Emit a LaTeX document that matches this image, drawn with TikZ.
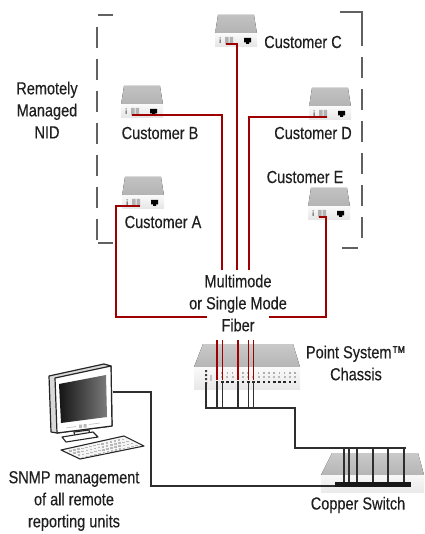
\documentclass[tikz,border=0pt]{standalone}
\usepackage{fontspec}
\setmainfont{Liberation Sans}[FakeStretch=0.83,FakeBold=0.35]
\begin{document}
\begin{tikzpicture}[x=1pt,y=-1pt,
  lbl/.style={font=\fontsize{17.5}{22}\selectfont, inner sep=0pt, align=center, text=black!88},
  fiber/.style={draw=red!62!black, line width=1.4pt},
  copper/.style={draw=black!82, line width=1.4pt},
  bracket/.style={draw=black!62, line width=1.6pt},
  bracketdash/.style={bracket, dash pattern=on 21pt off 11pt},
  nid/.pic={
    \fill[top color=gray!48, bottom color=gray!60] (3,0) -- (39,0) -- (42,19) -- (0,19) -- cycle;
    \fill[top color=gray!5, bottom color=gray!20] (0,19) rectangle (42,32);
    \fill[black!70] (4.5,22.5) rectangle (5.5,23.5) (4.5,24.5) rectangle (5.5,28);
    \fill[gray!60] (10,22) rectangle (13.5,29.5) (14.5,22) rectangle (18,29.5);
    \fill[black] (29,23) rectangle (36,27.5) (31,27.5) rectangle (34,29);
    \coordinate (-pa) at (11,29);
    \coordinate (-pb) at (18,29);
  },
  chassis/.pic={
    \fill[top color=gray!42, bottom color=gray!58] (9,0) -- (99,0) -- (106,23) -- (0,23) -- cycle;
    \fill[top color=gray!4, bottom color=gray!18] (0,23) rectangle (106,45);
    \fill[black!75] (11,26) rectangle (13,28) (11,30) rectangle (13,32)
                    (11,34) rectangle (13,36) (11,38) rectangle (13,40);
    \fill[gray!45] (16,31) rectangle (17.5,37);
    \foreach \i in {0,...,15} {
      \fill[gray!65] (23+5.2*\i-0.8,28) rectangle ++(1.6,1.6);
      \fill[gray!55] (23+5.2*\i-1,32) rectangle ++(2,1.6);
      \fill[black!85] (23+5.2*\i-1.3,37) rectangle ++(2.6,2.4);
    }
    \foreach \i in {0,1,4,6,7} {
      \coordinate (-r\i) at (23+5.2*\i,36);
      \coordinate (-b\i) at (23+5.2*\i,39);
    }
    \coordinate (-bL) at (12,39);
  },
  switch/.pic={
    \fill[top color=gray!42, bottom color=gray!58] (12,0) -- (98,0) -- (104,22) -- (1,22) -- cycle;
    \fill[top color=gray!6, bottom color=gray!16] (1,22) rectangle (104,39);
    \fill[black!90] (15,29) rectangle (91,34);
    \foreach \n/\x in {1/24,2/29,3/37,4/53,5/68,6/84} \coordinate (-d\n) at (\x,29);
    \coordinate (-in) at (15,33);
  },
  computer/.pic={
    % cabinet side and bezel
    \filldraw[fill=gray!30, draw=black!85, line width=1.2pt, line join=round]
      (49,376) -- (104,364) -- (111,366) -- (112,426) -- (57,433) -- (51,432) -- cycle;
    \filldraw[fill=white, draw=black!85, line width=1.2pt, line join=round]
      (55,378) -- (111,366) -- (112,426) -- (57,433) -- cycle;
    \shade[left color=black!92, right color=black!52]
      (59,384) -- (106,375) -- (107,417) -- (61,423) -- cycle;
    \fill[gray!55] (79,424.5) rectangle (82,428) (83.5,424) rectangle (86.5,427.5);
    \draw[gray!50, line width=0.6pt] (66,428) -- (76,426.5) (89,424.5) -- (100,423);
    % stand
    \filldraw[fill=gray!12, draw=black!85, line width=1.1pt, line join=round]
      (74,432) -- (89,430) -- (90,435) -- (75,437) -- cycle;
    \filldraw[fill=white, draw=black!85, line width=1.1pt, line join=round]
      (62,437) -- (93,432) -- (98,437) -- (66,442) -- cycle;
    % keyboard
    \filldraw[fill=gray!8, draw=black!85, line width=1.1pt, line join=round]
      (61,450) -- (124,436) -- (144,446) -- (80,459) -- cycle;
    \foreach \r in {0,...,3} \foreach \c in {0,...,13}
      \fill[gray!55] (68.9+4.07*\c+4.43*\r, 450.2-0.9*\c+2.1*\r) rectangle ++(2.6,1.5);
    \coordinate (-out) at (113,392);
  }
]
\useasboundingbox (0,0) rectangle (424,534);

% bracket around the remote units
\draw[bracket] (98,15) -- (113,15);
\draw[bracketdash] (97,27) -- (97,240);
\draw[bracket] (98,243) -- (113,243);
\draw[bracket] (340,12) -- (362,12) -- (362,46);
\draw[bracketdash] (362,57) -- (362,240);
\draw[bracket] (342,248) -- (358,248);

% remote NIDs
\pic (c) at (215,15) {nid};
\pic (b) at (121,86) {nid};
\pic (a) at (122,177) {nid};
\pic (d) at (309,88) {nid};
\pic (e) at (308,188) {nid};

\node[lbl] (labc) at (303,42) {Customer C};
\node[lbl] (labb) at (160,133) {Customer B};
\node[lbl] (laba) at (163,222) {Customer A};
\node[lbl] (labd) at (313,133) {Customer D};
\node[lbl] (labe) at (305,177) {Customer E};
\node[lbl] (nidlab) at (47,110) {Remotely\\Managed\\NID};

% fiber runs
\node[lbl] (fib) at (238,303) {Multimode\\or Single Mode\\Fiber};
\coordinate (aturn) at (116,317);
\coordinate (aend) at (207,317);
\coordinate (eturn) at (326,317);
\coordinate (eend) at (269,317);
\coordinate (bend) at (222,270);
\coordinate (cend) at (237,270);
\coordinate (dend) at (249,270);
\coordinate (fibtop) at (238,340);

\draw[fiber] (a-pb) -| (aturn) -- (aend);
\draw[fiber] (e-pa) -| (eturn) -- (eend);
\draw[fiber] (b-pa) -| (bend);
\draw[fiber] (c-pa) -| (cend);
\draw[fiber] (d-pb) -| (dend);

% chassis
\pic (ch) at (194,344) {chassis};
\node[lbl] (chlab) at (356,363) {Point System™\\Chassis};
\foreach \i in {0,1,4,6,7}
  \draw[fiber] (fibtop -| ch-r\i) -- (ch-r\i);

% copper switch
\pic (sw) at (320,453) {switch};
\node[lbl] (swlab) at (358,505) {Copper Switch};

\coordinate (bus) at (206,408);
\coordinate (busR) at (295,408);
\coordinate (swR) at (406,448);
\foreach \i in {0,1,4,6,7}
  \draw[copper] (ch-b\i) -- (ch-b\i |- bus);
\draw[copper] (ch-bL) |- (busR) |- (swR);
\foreach \n in {1,...,6}
  \draw[copper] (sw-d\n |- swR) -- (sw-d\n);

% management station
\pic (pc) at (0,0) {computer};
\node[lbl] (pclab) at (74,501) {SNMP management\\of all remote\\reporting units};
\coordinate (pcturn) at (151,486);
\draw[copper] (pc-out) -| (pcturn) -- (sw-in);
\end{tikzpicture}
\end{document}
